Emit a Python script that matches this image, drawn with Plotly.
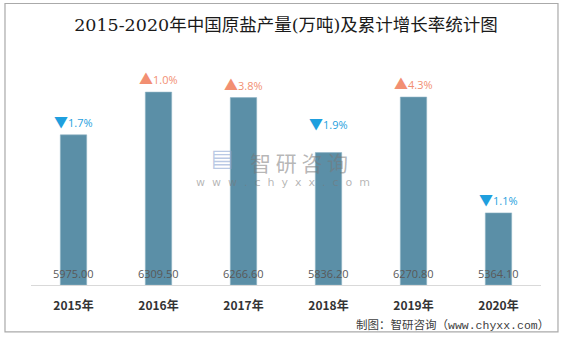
import plotly.graph_objects as go

years = ["2015年", "2016年", "2017年", "2018年", "2019年", "2020年"]
output = [5975.00, 6309.50, 6266.60, 5836.20, 6270.80, 5364.10]
growth = [-1.7, 1.0, 3.8, -1.9, 4.3, -1.1]

BAR = "#5b8fa7"
UP = "#f28f72"
DOWN = "#1f9fde"
YMIN, YMAX = 4800, 6600
LABEL_LIFT = {"2018年": 16}  # label raised above watermark in the original

fig = go.Figure()
fig.add_trace(go.Bar(
    x=years, y=[v - YMIN for v in output], base=YMIN,
    width=0.31,
    marker=dict(color=BAR, line=dict(color="#8fb3c4", width=0.6)),
    hoverinfo="skip",
))

ann = []
for yr, v, g in zip(years, output, growth):
    arrow = "▲" if g >= 0 else "▼"
    col = UP if g >= 0 else DOWN
    ann.append(dict(
        x=yr, y=v, xref="x", yref="y", yanchor="bottom", yshift=2 + LABEL_LIFT.get(yr, 0),
        text=f"<span style='font-size:14px'>{arrow}</span>{abs(g):.1f}%",
        showarrow=False, font=dict(size=11, color=col, family="Open Sans, Noto Sans CJK SC"),
    ))
    ann.append(dict(
        x=yr, y=YMIN, xref="x", yref="y", yanchor="bottom", yshift=2,
        text=f"{v:.2f}", showarrow=False,
        font=dict(size=11, color="#595959", family="Open Sans, Noto Sans CJK SC"),
    ))

# watermark
ann.append(dict(xref="paper", yref="paper", x=0.376, y=0.551, xanchor="center", yanchor="middle",
                text="▤", showarrow=False, font=dict(size=24, color="rgba(140,165,210,0.6)",
                                                     family="DejaVu Sans")))
ann.append(dict(xref="paper", yref="paper", x=0.525, y=0.536, xanchor="center", yanchor="middle",
                text="智 研 咨 询", showarrow=False,
                font=dict(size=21, color="rgba(120,120,120,0.55)", family="Noto Sans CJK SC")))
ann.append(dict(xref="paper", yref="paper", x=0.494, y=0.447, xanchor="center", yanchor="middle",
                text="w  w  w  .  c  h  y  x  x  .  c  o  m", showarrow=False,
                font=dict(size=11, color="rgba(120,120,120,0.55)", family="DejaVu Sans")))
# source
ann.append(dict(xref="paper", yref="paper", x=1.02, y=-0.173, xanchor="right", yanchor="middle",
                text="制图：智研咨询（www.chyxx.com）", showarrow=False,
                font=dict(size=11.5, color="#404040", family="Liberation Mono, Noto Sans CJK SC")))

fig.update_layout(
    width=566, height=337,
    margin=dict(l=31, r=25, t=55, b=52),
    paper_bgcolor="white", plot_bgcolor="white",
    showlegend=False,
    title=dict(text="2015-2020年中国原盐产量(万吨)及累计增长率统计图",
               x=0.5, xref="paper", xanchor="center", y=0.925, yref="container", yanchor="middle",
               font=dict(size=17.5, color="#1a1a1a", family="DejaVu Serif, Noto Sans CJK SC")),
    xaxis=dict(showline=True, linecolor="#d9d9d9", linewidth=1, showgrid=False,
               ticks="", ticklabelstandoff=10,
               tickfont=dict(size=12, color="#333333", family="Noto Sans CJK SC"),
               tickprefix="<b>", ticksuffix="</b>"),
    yaxis=dict(range=[YMIN, YMAX], visible=False, showgrid=False),
    annotations=ann,
    shapes=[dict(type="rect", xref="paper", yref="paper",
                 x0=-0.0510, x1=1.0333, y0=-0.204, y1=1.224,
                 line=dict(color="#aaaaaa", width=1.2), layer="below")],
)

fig.write_html("out.html")
